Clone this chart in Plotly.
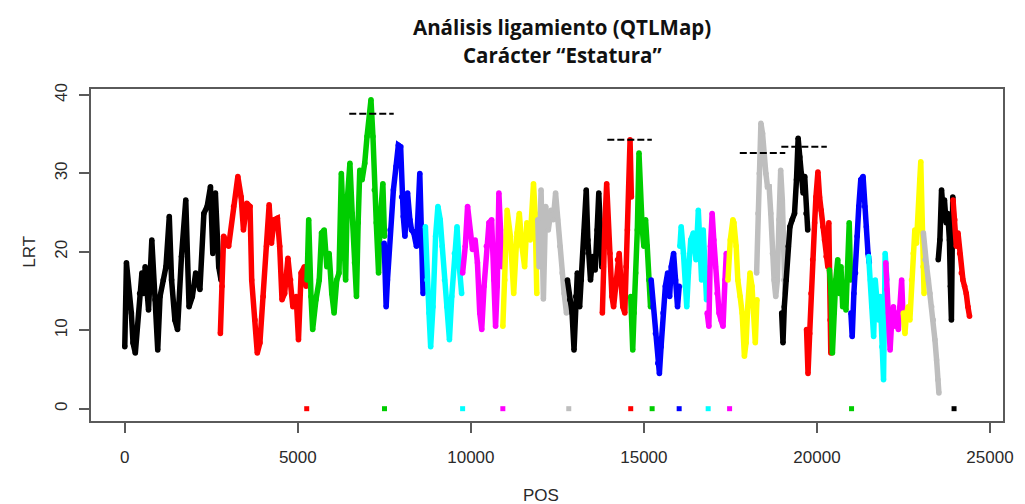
import plotly.graph_objects as go

# R default palette cycling over chromosomes
palette = ["#000000", "#FF0000", "#00CD00", "#0000FF", "#00FFFF", "#FF00FF", "#FFFF00", "#BEBEBE"]

pos_01 = [0, 48, 190, 238, 305, 429, 495, 543, 590, 686, 781, 876, 952, 1019, 1114, 1190, 1286, 1352, 1448, 1524, 1638, 1762, 1857, 1952, 2048, 2171, 2286, 2381, 2476, 2543, 2619, 2714, 2781]
lrt_01 = [7.9, 18.6, 12.2, 8.4, 7.1, 14.7, 17.3, 14.7, 18.1, 12.6, 21.5, 13.9, 7.5, 14.3, 16.4, 18.1, 24.5, 16.4, 11.3, 10.1, 19.4, 26.6, 13.0, 14.3, 17.3, 15.2, 24.9, 25.8, 28.3, 19.8, 27.5, 18.1, 16.4]
pos_02 = [2762, 2810, 2857, 3000, 3143, 3267, 3362, 3429, 3524, 3619, 3667, 3762, 3829, 3905, 4000, 4095, 4171, 4238, 4314, 4410, 4476, 4543, 4619, 4714, 4790, 4857, 4952, 5019, 5095, 5190, 5238]
lrt_02 = [9.6, 15.6, 22.0, 20.7, 25.8, 29.6, 27.0, 22.8, 26.2, 25.8, 16.4, 11.3, 7.1, 8.4, 14.3, 20.7, 26.0, 21.1, 24.1, 24.3, 20.7, 13.9, 14.7, 19.2, 16.4, 13.0, 14.3, 8.8, 17.3, 18.1, 15.6]
pos_03 = [5267, 5314, 5381, 5429, 5524, 5619, 5686, 5762, 5838, 5905, 5981, 6048, 6124, 6190, 6257, 6314, 6381, 6429, 6505, 6571, 6638, 6695, 6743, 6790, 6857, 6933, 7000, 7076, 7114, 7171, 7210, 7267, 7333, 7381, 7457, 7505]
lrt_03 = [16.4, 24.1, 14.3, 10.1, 13.9, 16.4, 22.4, 22.8, 18.1, 19.8, 14.7, 12.2, 16.4, 17.3, 30.0, 22.8, 16.4, 26.6, 31.3, 24.9, 18.6, 14.3, 23.7, 30.4, 29.2, 31.3, 34.7, 37.2, 39.4, 34.7, 27.9, 23.7, 17.3, 24.1, 28.7, 22.0]
pos_04 = [7495, 7552, 7590, 7667, 7762, 7838, 7905, 7971, 8000, 8048, 8095, 8171, 8238, 8286, 8352, 8429, 8524, 8571, 8619, 8667]
lrt_04 = [21.1, 13.0, 16.4, 22.8, 27.9, 30.9, 33.6, 33.4, 27.0, 24.5, 22.0, 27.5, 24.1, 22.8, 22.4, 20.7, 30.0, 22.8, 14.7, 19.8]
pos_05 = [8686, 8733, 8790, 8838, 8905, 8981, 9048, 9114, 9171, 9238, 9305, 9381, 9448, 9524, 9600, 9667, 9733]
lrt_05 = [23.2, 16.4, 12.2, 7.9, 13.0, 22.0, 25.8, 24.1, 20.7, 16.4, 13.0, 8.8, 14.3, 19.8, 23.2, 18.1, 14.7]
pos_06 = [9762, 9838, 9905, 9971, 10048, 10124, 10190, 10257, 10314, 10381, 10448, 10524, 10600, 10667, 10714, 10762, 10810, 10857, 10905]
lrt_06 = [17.3, 20.7, 25.8, 22.4, 20.3, 21.5, 18.6, 12.2, 10.1, 15.6, 20.7, 23.7, 24.1, 16.4, 10.5, 15.6, 27.5, 22.8, 18.1]
pos_07 = [10924, 10981, 11048, 11143, 11238, 11334, 11400, 11476, 11553, 11619, 11714, 11810, 11857, 11905]
lrt_07 = [10.5, 16.4, 25.3, 22.0, 14.7, 22.4, 24.9, 20.7, 18.1, 23.7, 21.5, 28.7, 24.9, 14.7]
pos_08 = [11934, 11972, 12029, 12096, 12162, 12238, 12315, 12381, 12448, 12505, 12572, 12638, 12696, 12762]
lrt_08 = [24.1, 18.1, 27.9, 14.0, 25.8, 22.8, 25.3, 24.1, 27.5, 24.1, 20.7, 17.3, 14.7, 12.2]
pos_09 = [12791, 12857, 12924, 12981, 13029, 13076, 13143, 13191, 13238, 13286, 13334, 13381, 13457, 13524, 13591, 13648, 13696, 13743, 13781]
lrt_09 = [16.4, 13.9, 12.2, 7.5, 14.3, 17.3, 13.0, 16.4, 19.8, 22.8, 27.9, 21.5, 16.4, 19.4, 17.7, 22.8, 27.5, 22.8, 18.1]
pos_10 = [13800, 13829, 13877, 13924, 13972, 14019, 14077, 14124, 14172, 14238, 14286, 14334, 14391, 14448, 14486, 14524, 14562, 14600, 14638]
lrt_10 = [12.2, 18.1, 24.1, 28.7, 22.8, 19.8, 14.3, 13.0, 15.6, 19.0, 19.8, 16.4, 13.0, 12.2, 18.1, 22.8, 28.3, 34.3, 27.0]
pos_11 = [14620, 14650, 14677, 14715, 14762, 14810, 14858, 14905, 14953, 15000, 15048, 15096, 15143, 15191]
lrt_11 = [14.3, 11.3, 7.5, 12.2, 17.3, 22.8, 32.6, 25.8, 22.8, 20.7, 24.1, 20.7, 16.4, 13.0]
pos_12 = [15210, 15267, 15334, 15400, 15448, 15496, 15553, 15620, 15686, 15743, 15791, 15858, 15915, 15972, 16020]
lrt_12 = [16.4, 13.0, 9.6, 5.8, 4.5, 7.9, 12.2, 15.6, 17.3, 14.3, 18.1, 19.8, 16.4, 13.0, 15.6]
pos_13 = [16040, 16077, 16143, 16191, 16238, 16286, 16353, 16429, 16505, 16572, 16620, 16667, 16715, 16762, 16810]
lrt_13 = [20.7, 23.2, 19.8, 15.6, 13.0, 17.3, 21.5, 22.4, 19.0, 25.3, 21.5, 16.4, 22.8, 18.1, 13.9]
pos_14 = [16829, 16877, 16924, 16972, 17020, 17067, 17115, 17172, 17229, 17286, 17343, 17381]
lrt_14 = [12.2, 10.5, 20.7, 24.9, 21.5, 18.1, 14.7, 12.2, 11.3, 10.5, 16.4, 19.8]
pos_15 = [17429, 17496, 17572, 17600, 17666, 17714, 17781, 17838, 17904, 17952, 18000, 18066, 18123, 18171, 18219, 18266]
lrt_15 = [16.4, 21.5, 24.1, 23.7, 20.7, 16.4, 14.3, 12.2, 6.7, 8.4, 13.0, 17.3, 15.6, 12.2, 8.4, 13.9]
pos_16 = [18257, 18295, 18333, 18381, 18428, 18476, 18524, 18571, 18619, 18666, 18714, 18762, 18809, 18857, 18904, 18952, 19000, 19047, 19076]
lrt_16 = [17.3, 24.9, 30.0, 36.4, 35.1, 31.7, 30.0, 28.3, 28.3, 24.9, 19.8, 16.4, 14.3, 16.4, 24.1, 30.4, 26.6, 16.4, 14.7]
pos_17 = [18981, 19019, 19057, 19114, 19171, 19219, 19285, 19352, 19409, 19457, 19504, 19552, 19600, 19647, 19685, 19733]
lrt_17 = [12.2, 8.4, 13.0, 16.4, 20.7, 23.2, 24.1, 24.9, 29.2, 34.5, 32.1, 30.0, 27.5, 29.6, 24.9, 22.8]
pos_18 = [19700, 19742, 19790, 19828, 19876, 19933, 19971, 20028, 20076, 20123, 20171, 20219, 20266, 20314, 20343, 20381, 20400]
lrt_18 = [10.1, 4.5, 9.6, 14.7, 19.0, 23.7, 27.0, 30.2, 27.0, 25.3, 23.2, 21.5, 19.4, 18.1, 23.7, 11.3, 7.1]
pos_19 = [20361, 20409, 20447, 20495, 20543, 20600, 20647, 20695, 20743, 20790, 20838, 20885, 20933, 20971]
lrt_19 = [17.7, 14.7, 7.1, 12.2, 16.4, 19.0, 14.7, 18.1, 13.0, 15.6, 12.6, 18.1, 23.7, 16.4]
pos_20 = [20981, 21019, 21067, 21114, 21162, 21209, 21266, 21333, 21381, 21428, 21476, 21514]
lrt_20 = [12.2, 9.2, 14.7, 17.3, 22.0, 25.8, 29.2, 29.6, 25.8, 23.2, 19.8, 18.6]
pos_21 = [21495, 21543, 21590, 21638, 21685, 21733, 21781, 21828, 21876, 21924, 21971, 22019]
lrt_21 = [19.4, 16.4, 13.0, 9.2, 16.4, 12.2, 11.3, 14.3, 7.9, 3.7, 19.8, 16.4]
pos_22 = [21990, 22019, 22066, 22114, 22162, 22209, 22257, 22305, 22352, 22400, 22447, 22485]
lrt_22 = [18.6, 15.2, 12.2, 7.5, 11.3, 13.0, 10.5, 12.2, 10.1, 13.0, 16.4, 12.2]
pos_23 = [22495, 22543, 22590, 22638, 22685, 22733, 22781, 22828, 22876, 22924, 22971, 23000, 23028, 23066, 23095]
lrt_23 = [12.2, 9.6, 12.2, 13.0, 11.3, 16.4, 19.8, 22.8, 21.1, 24.1, 29.2, 31.5, 24.1, 18.1, 14.7]
pos_24 = [23076, 23124, 23171, 23219, 23266, 23314, 23362, 23409, 23457, 23495, 23524]
lrt_24 = [22.4, 19.0, 18.1, 16.4, 14.7, 13.0, 11.3, 8.8, 6.2, 3.7, 2.0]
pos_25 = [23505, 23552, 23600, 23638, 23685, 23733, 23781, 23828, 23857, 23886, 23924, 23952]
lrt_25 = [19.0, 21.5, 27.9, 25.8, 26.6, 23.7, 24.9, 21.5, 15.6, 11.3, 27.0, 23.7]
pos_26 = [23933, 23981, 24028, 24076, 24124, 24171, 24219, 24266, 24314, 24362, 24409]
lrt_26 = [26.6, 24.1, 20.7, 22.4, 19.8, 17.3, 16.4, 15.6, 14.7, 13.0, 11.8]

chrom_pos = [pos_01, pos_02, pos_03, pos_04, pos_05, pos_06, pos_07, pos_08, pos_09, pos_10,
             pos_11, pos_12, pos_13, pos_14, pos_15, pos_16, pos_17, pos_18, pos_19, pos_20,
             pos_21, pos_22, pos_23, pos_24, pos_25, pos_26]
chrom_lrt = [lrt_01, lrt_02, lrt_03, lrt_04, lrt_05, lrt_06, lrt_07, lrt_08, lrt_09, lrt_10,
             lrt_11, lrt_12, lrt_13, lrt_14, lrt_15, lrt_16, lrt_17, lrt_18, lrt_19, lrt_20,
             lrt_21, lrt_22, lrt_23, lrt_24, lrt_25, lrt_26]

# Markers on the zero line (QTL positions) and their chromosome colour index
qtl_pos = [5257, 7505, 9762, 10924, 12829, 14619, 15238, 16019, 16857, 17476, 21000, 23962]
qtl_col = [1, 2, 4, 5, 7, 1, 2, 3, 4, 5, 2, 0]

# Significance thresholds (dashed segments)
thr_start = [6486, 13943, 17771, 18971]
thr_end = [7771, 15229, 19085, 20285]
thr_value = [37.6, 34.3, 32.6, 33.4]

x_ticks = [0, 5000, 10000, 15000, 20000, 25000]
y_ticks = [0, 10, 20, 30, 40]

fig = go.Figure()
for i, (xs, ys) in enumerate(zip(chrom_pos, chrom_lrt)):
    col = palette[i % len(palette)]
    fig.add_trace(go.Scatter(x=xs, y=ys, mode="lines+markers",
                             line=dict(color=col, width=5.5),
                             marker=dict(color=col, size=5.5),
                             showlegend=False, hoverinfo="skip"))

fig.add_trace(go.Scatter(x=qtl_pos, y=[0] * len(qtl_pos), mode="markers",
                         marker=dict(symbol="square", size=5,
                                     color=[palette[c] for c in qtl_col]),
                         showlegend=False, hoverinfo="skip"))

for s, e, v in zip(thr_start, thr_end, thr_value):
    fig.add_trace(go.Scatter(x=[s, e], y=[v, v], mode="lines",
                             line=dict(color="black", width=2, dash="7px,3px"),
                             showlegend=False, hoverinfo="skip"))

axis_font = dict(family="Liberation Sans, Arial, sans-serif", size=17, color="#2a2a2a")
title_font = dict(family="Open Sans, sans-serif", size=20.5, color="#111111")
frame = "#5a5a5a"
fig.update_layout(
    width=1025, height=504,
    margin=dict(l=91, r=12, t=89, b=83),
    paper_bgcolor="white", plot_bgcolor="white",
    xaxis=dict(range=[-976, 25376], tickvals=x_ticks, ticktext=[str(t) for t in x_ticks],
               ticks="outside", ticklen=10, tickwidth=1.8, tickcolor=frame,
               showline=True, linecolor=frame, linewidth=1.8, mirror=True,
               showgrid=False, zeroline=False, tickfont=axis_font, ticklabelstandoff=10),
    yaxis=dict(range=[-1.57, 40.77], tickvals=y_ticks, ticktext=[str(t) for t in y_ticks],
               ticks="outside", ticklen=10, tickwidth=1.8, tickcolor=frame,
               showline=True, linecolor=frame, linewidth=1.8, mirror=True,
               showgrid=False, zeroline=False, tickfont=axis_font, tickangle=-90,
               ticklabelstandoff=5),
)

# text placed at pixel positions of the 1025x504 canvas
plot_l, plot_r, plot_t, plot_b = 91, 1025 - 12, 89, 504 - 83
texts = [
    ("<b>Análisis ligamiento (QTLMap)</b>", 567, 27, 0, title_font),
    ("<b>Carácter “Estatura”</b>", 568, 55, 0, title_font),
    ("LRT", 28, 252, -90, axis_font),
    ("POS", 546, 495, 0, axis_font),
]
for txt, px, py, ang, fnt in texts:
    fig.add_annotation(text=txt, showarrow=False, textangle=ang, font=fnt,
                       xref="paper", yref="paper", xanchor="center", yanchor="middle",
                       x=(px - plot_l) / (plot_r - plot_l),
                       y=(plot_b - py) / (plot_b - plot_t))

fig.write_html("out.html", config={"displayModeBar": False},
               post_script="document.body.style.margin='0';document.body.style.overflow='hidden';")
